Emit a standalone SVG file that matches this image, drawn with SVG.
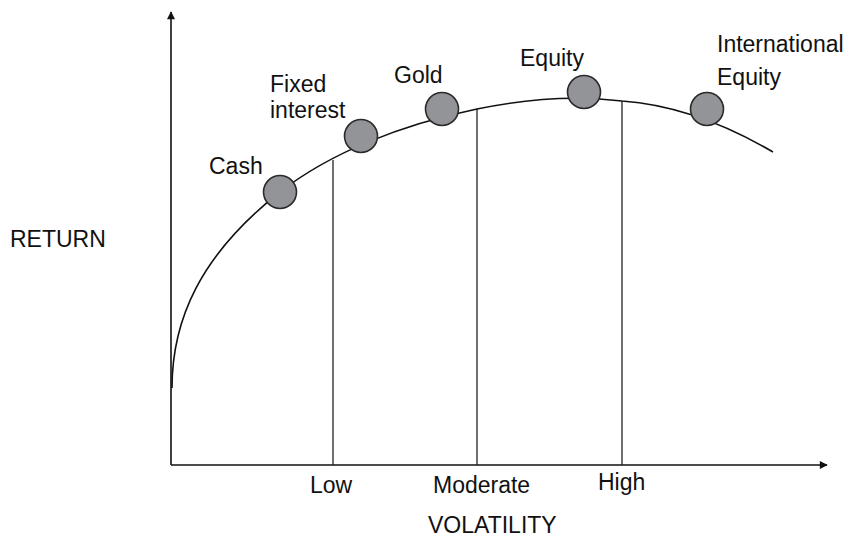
<svg xmlns="http://www.w3.org/2000/svg" width="848" height="539" viewBox="0 0 848 539">
<style>
text{font-family:"Liberation Sans",Arial,sans-serif;font-size:23px;fill:#111}
.ax{stroke:#111;stroke-width:1.6;fill:none}
.vl{stroke:#222;stroke-width:1.3;fill:none}
.dot{fill:#939498;stroke:#2a2a2a;stroke-width:1.6}
</style>
<defs>
<marker id="ah" viewBox="0 0 10 10" refX="9" refY="5" markerWidth="9" markerHeight="8" markerUnits="userSpaceOnUse" orient="auto">
<path d="M0,0 L10,5 L0,10 z" fill="#111"/>
</marker>
</defs>
<rect width="848" height="539" fill="#fff"/>
<g id="connectors">
<line class="ax" x1="171" y1="465" x2="171" y2="12" marker-end="url(#ah)"/>
<line class="ax" x1="171" y1="465" x2="827" y2="465" marker-end="url(#ah)"/>
<line class="vl" x1="333" y1="160" x2="333" y2="465"/>
<line class="vl" x1="477" y1="109" x2="477" y2="465"/>
<line class="vl" x1="622" y1="101" x2="622" y2="465"/>
<path class="ax" d="M172,388 C172,320 200,255 280,192 C330,153 400,125 477,109 C530,98 580,96 622,101 C665,104 715,118 773,152"/>
</g>
<g id="cash"><circle class="dot" cx="280" cy="192" r="16.5"/><text x="209" y="174">Cash</text></g>
<g id="fixed-interest"><circle class="dot" cx="361" cy="136" r="16.5"/><text x="270" y="92">Fixed</text><text x="270" y="118">interest</text></g>
<g id="gold"><circle class="dot" cx="442" cy="109" r="16.5"/><text x="394" y="83">Gold</text></g>
<g id="equity"><circle class="dot" cx="584" cy="92" r="16.5"/><text x="520" y="66">Equity</text></g>
<g id="international-equity"><circle class="dot" cx="707" cy="109" r="16.5"/><text x="717" y="52">International</text><text x="717" y="85">Equity</text></g>
<g id="labels">
<text x="10" y="247">RETURN</text>
<text x="310" y="493">Low</text>
<text x="433" y="493">Moderate</text>
<text x="598" y="490">High</text>
<text x="428" y="533">VOLATILITY</text>
</g>
</svg>
